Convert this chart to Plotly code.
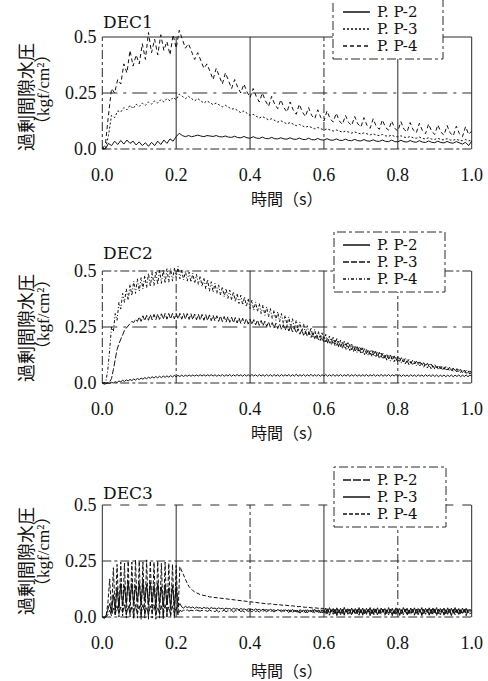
import numpy as np
import plotly.graph_objects as go

# ---------------- data (values in 1e-3 kgf/cm2) ----------------
SCALE = 1000.0
time_dec1 = np.linspace(0.0, 1.0, 121)    # s
time_dec23 = np.linspace(0.0, 1.0, 201)   # s

series_names = ["P. P-2", "P. P-3", "P. P-4"]
panel_labels = ["DEC1", "DEC2", "DEC3"]
x_ticks = [0.0, 0.2, 0.4, 0.6, 0.8, 1.0]
x_tick_text = ["0.0", "0.2", "0.4", "0.6", "0.8", "1.0"]
y_ticks = [0.0, 0.25, 0.5]
y_tick_text = ["0.0", "0.25", "0.5"]

dec1_pp2 = [5, 0, 25, 15, 35, 20, 38, 22, 40, 25,
            35, 18, 32, 15, 28, 12, 30, 15, 35, 20,
            40, 25, 45, 35, 55, 70, 60, 55, 60, 55,
            58, 62, 58, 55, 60, 57, 56, 60, 55, 54,
            58, 53, 52, 57, 51, 50, 56, 50, 48, 55,
            49, 47, 53, 47, 46, 52, 46, 45, 50, 45,
            44, 50, 44, 43, 49, 43, 42, 48, 42, 41,
            47, 41, 40, 46, 40, 39, 45, 39, 38, 44,
            38, 37, 43, 37, 36, 42, 36, 35, 41, 35,
            34, 40, 34, 33, 40, 33, 32, 39, 33, 31,
            38, 32, 30, 37, 31, 29, 36, 30, 28, 35,
            29, 27, 34, 28, 26, 33, 27, 22, 30, 15,
            35]
dec1_pp3 = [0, 0, 60, 150, 140, 170, 165, 185, 175, 195,
            180, 200, 190, 205, 195, 210, 200, 215, 205, 220,
            210, 225, 215, 230, 220, 245, 235, 225, 235, 225,
            215, 225, 215, 205, 215, 205, 198, 205, 195, 188,
            195, 185, 178, 180, 170, 162, 170, 158, 150, 155,
            145, 138, 145, 136, 130, 135, 126, 120, 126, 117,
            112, 118, 110, 104, 110, 102, 97, 102, 95, 90,
            96, 89, 85, 90, 84, 80, 85, 79, 75, 80,
            74, 71, 76, 70, 67, 72, 66, 63, 68, 62,
            60, 65, 59, 57, 62, 56, 54, 59, 53, 51,
            56, 50, 48, 53, 47, 45, 50, 44, 43, 48,
            42, 41, 46, 40, 39, 44, 38, 37, 42, 36,
            40]
dec1_pp4 = [0, 20, 150, 270, 250, 310, 290, 380, 340, 440,
            370, 420, 380, 470, 400, 520, 430, 490, 420, 510,
            440, 480, 420, 510, 450, 530, 490, 450, 470, 430,
            400, 430, 390, 360, 380, 340, 310, 360, 320, 290,
            340, 300, 270, 310, 275, 250, 290, 255, 230, 270,
            235, 210, 250, 215, 190, 235, 200, 180, 220, 185,
            165, 210, 175, 155, 200, 165, 145, 185, 150, 135,
            175, 140, 125, 170, 135, 120, 160, 125, 110, 150,
            118, 105, 145, 112, 98, 140, 105, 92, 135, 100,
            88, 130, 96, 84, 125, 92, 80, 122, 88, 76,
            118, 85, 72, 115, 82, 68, 112, 78, 65, 108,
            75, 62, 105, 72, 58, 102, 68, 55, 100, 65,
            80]

dec2_pp2 = [0, -5, -3, 0, -2, 3, 0, 6, 2, 9, 5, 12, 7, 14, 9, 16, 11, 18, 13, 20,
            15, 22, 17, 24, 19, 26, 21, 28, 22, 29, 23, 30, 24, 31, 25, 32, 26, 33, 27, 34,
            28, 34, 29, 35, 29, 35, 30, 36, 30, 36, 31, 36, 31, 37, 31, 37, 31, 37, 32, 37,
            31, 37, 30, 36, 31, 38, 30, 37, 31, 38, 30, 37, 31, 38, 31, 37, 30, 38, 31, 37,
            30, 38, 31, 37, 30, 38, 31, 37, 30, 38, 31, 37, 30, 38, 31, 37, 30, 38, 31, 37,
            31, 38, 30, 37, 31, 39, 30, 37, 31, 38, 30, 37, 31, 39, 30, 37, 31, 38, 30, 37,
            31, 38, 30, 37, 31, 38, 30, 37, 31, 38, 30, 37, 31, 38, 30, 37, 31, 38, 30, 37,
            30, 37, 31, 38, 30, 37, 31, 38, 30, 37, 31, 38, 30, 37, 31, 38, 30, 37, 31, 38,
            30, 36, 29, 37, 30, 36, 29, 37, 30, 36, 29, 37, 30, 36, 29, 37, 30, 36, 29, 37,
            29, 36, 28, 35, 29, 36, 28, 35, 29, 36, 28, 35, 29, 36, 28, 35, 29, 36, 28, 35,
            32]
dec2_pp3 = [0, 0, 0, 0, 5, 20, 60, 110, 150, 175, 200, 215, 235, 245, 260, 265, 275, 270, 285, 275,
            295, 275, 300, 278, 302, 280, 305, 282, 306, 283, 308, 284, 309, 285, 310, 285, 310, 286, 311, 286,
            311, 286, 311, 285, 310, 285, 310, 284, 309, 283, 308, 282, 307, 281, 306, 280, 305, 279, 304, 278,
            302, 277, 300, 275, 299, 274, 297, 272, 296, 271, 294, 269, 292, 268, 291, 266, 289, 265, 287, 263,
            285, 261, 283, 259, 281, 257, 279, 255, 276, 252, 273, 249, 270, 246, 267, 243, 264, 240, 260, 236,
            256, 232, 252, 228, 247, 223, 242, 218, 237, 213, 232, 208, 227, 203, 222, 198, 217, 193, 212, 188,
            207, 183, 202, 178, 197, 173, 192, 168, 187, 163, 182, 158, 177, 153, 172, 148, 167, 143, 162, 138,
            157, 135, 153, 131, 149, 127, 145, 123, 141, 119, 137, 115, 133, 111, 129, 107, 125, 103, 121, 100,
            117, 97, 113, 94, 109, 91, 105, 88, 101, 85, 97, 82, 94, 79, 91, 76, 88, 73, 85, 70,
            82, 67, 79, 64, 76, 61, 73, 58, 70, 55, 67, 52, 64, 49, 61, 46, 58, 43, 55, 40,
            50]
dec2_pp4 = [0, 0, 10, 60, 150, 250, 230, 310, 280, 360, 330, 400, 360, 420, 370, 440, 390, 455, 400, 465,
            410, 470, 420, 480, 425, 490, 430, 495, 435, 500, 440, 505, 445, 505, 445, 510, 450, 510, 455, 515,
            470, 520, 465, 505, 460, 500, 455, 495, 450, 490, 445, 485, 440, 478, 430, 470, 420, 462, 410, 452,
            405, 445, 400, 438, 392, 430, 385, 422, 378, 415, 370, 408, 362, 400, 355, 392, 348, 385, 340, 378,
            332, 370, 325, 362, 318, 355, 310, 348, 302, 340, 295, 332, 288, 325, 280, 318, 273, 310, 266, 302,
            258, 295, 250, 287, 243, 280, 236, 272, 228, 264, 220, 256, 212, 248, 205, 240, 198, 232, 190, 224,
            184, 217, 178, 210, 172, 204, 166, 198, 160, 192, 155, 186, 150, 180, 145, 174, 140, 168, 135, 162,
            130, 157, 126, 152, 122, 147, 118, 142, 114, 137, 110, 133, 106, 128, 102, 124, 98, 120, 95, 116,
            92, 112, 88, 108, 85, 104, 82, 100, 79, 97, 76, 94, 73, 90, 70, 87, 67, 84, 64, 81,
            62, 78, 59, 75, 57, 72, 55, 69, 53, 66, 51, 63, 49, 61, 47, 58, 45, 56, 43, 54,
            45]

dec3_pp2 = [0, -5, 0, 10, 30, 5, 40, 10, 50, 15, 45, 20, 55, 10, 50, 15, 45, 5, 55, 15,
            50, 10, 55, 15, 45, 10, 50, 20, 55, 10, 45, 15, 50, 10, 55, 20, 45, 10, 50, 15,
            45, 10, 30, 25, 30, 28, 32, 26, 30, 29, 27, 31, 28, 26, 30, 27, 29, 25, 31, 27,
            28, 24, 30, 22, 29, 26, 31, 23, 28, 25, 30, 22, 29, 26, 31, 24, 28, 22, 30, 25,
            29, 23, 31, 24, 28, 22, 30, 26, 29, 23, 31, 24, 28, 22, 30, 25, 29, 23, 31, 24,
            28, 20, 32, 18, 30, 22, 33, 17, 29, 21, 32, 18, 30, 22, 33, 16, 29, 20, 32, 18,
            30, 10, 34, 8, 32, 12, 35, 6, 30, 10, 33, 8, 32, 12, 35, 7, 31, 10, 34, 8,
            33, 8, 31, 12, 35, 6, 32, 10, 34, 8, 30, 12, 35, 7, 32, 10, 34, 6, 31, 12,
            34, 7, 32, 10, 35, 6, 31, 12, 33, 8, 35, 10, 32, 6, 34, 12, 31, 8, 35, 10,
            32, 6, 34, 10, 31, 8, 35, 12, 33, 6, 32, 10, 34, 8, 31, 12, 35, 6, 30, 15,
            20]
dec3_pp3 = [0, 0, 5, 30, 60, 20, 100, 30, 130, 40, 150, 50, 140, 60, 160, 70, 150, 60, 140, 70,
            150, 60, 160, 70, 145, 55, 155, 65, 140, 50, 150, 60, 135, 45, 145, 55, 130, 40, 140, 50,
            135, 45, 60, 45, 40, 48, 42, 46, 40, 45, 38, 44, 40, 42, 37, 43, 39, 41, 36, 42,
            38, 40, 35, 41, 37, 39, 34, 40, 36, 38, 33, 39, 35, 37, 32, 38, 34, 36, 31, 37,
            33, 35, 30, 36, 32, 34, 29, 35, 31, 33, 28, 34, 30, 32, 27, 33, 29, 31, 26, 32,
            28, 32, 22, 34, 26, 30, 20, 33, 25, 31, 18, 32, 26, 30, 20, 34, 24, 31, 18, 33,
            20, 40, 15, 42, 22, 38, 14, 41, 20, 39, 16, 43, 21, 37, 15, 40, 22, 38, 14, 42,
            18, 40, 15, 39, 22, 42, 14, 38, 20, 41, 16, 40, 21, 38, 15, 42, 19, 39, 14, 41,
            20, 38, 15, 42, 21, 39, 14, 40, 19, 41, 16, 38, 22, 42, 15, 39, 20, 41, 14, 40,
            19, 42, 15, 38, 21, 40, 14, 41, 20, 39, 16, 42, 18, 38, 15, 40, 21, 39, 18, 35,
            25]
dec3_pp4 = [0, -5, 0, 60, 170, 20, 220, 10, 235, 0, 245, 5, 240, -5, 250, 0, 245, -10, 255, -5,
            250, -10, 245, -5, 255, -10, 250, -5, 245, -10, 250, -5, 240, -10, 245, -5, 240, 0, 235, -5,
            230, 10, 225, 205, 190, 170, 150, 135, 125, 118, 112, 107, 104, 100, 98, 97, 94, 93, 90, 89,
            87, 86, 84, 85, 82, 81, 80, 81, 78, 77, 76, 77, 74, 73, 72, 73, 70, 69, 68, 69,
            66, 65, 64, 65, 63, 62, 61, 62, 60, 59, 58, 59, 57, 56, 55, 56, 54, 53, 52, 53,
            51, 50, 49, 50, 48, 47, 46, 47, 45, 44, 43, 44, 42, 41, 40, 41, 39, 38, 38, 39,
            37, 20, 38, 15, 36, 22, 35, 12, 37, 18, 34, 14, 36, 20, 33, 12, 35, 18, 32, 15,
            36, 12, 34, 20, 37, 14, 33, 18, 36, 10, 34, 20, 35, 12, 33, 18, 36, 14, 34, 20,
            35, 12, 33, 18, 36, 14, 32, 20, 35, 10, 34, 18, 36, 12, 33, 20, 35, 14, 32, 18,
            36, 12, 34, 20, 35, 14, 33, 18, 36, 10, 34, 20, 35, 12, 33, 18, 36, 14, 34, 25,
            30]

panels = [
    (time_dec1, [dec1_pp2, dec1_pp3, dec1_pp4]),
    (time_dec23, [dec2_pp2, dec2_pp3, dec2_pp4]),
    (time_dec23, [dec3_pp2, dec3_pp3, dec3_pp4]),
]

# ---------------- styling / layout ----------------
W, H = 488, 681
INK = "#111111"
GRID = "#2a2a2a"
SERIF = "Liberation Serif, Noto Sans CJK JP"
WIDE_SERIF = "DejaVu Serif, Liberation Serif"
CJK = "Noto Sans CJK JP"

line_dashes = [
    ["solid", "2px,2px", "4px,3px"],
    ["solid", "6px,2px", "3px,2px,1px,2px"],
    ["8px,2px", "solid", "4px,2px"],
]

X0_PX, X1_PX = 102.3, 471.7
panel_px = [(149.0, 37.0), (383.0, 271.0), (617.0, 505.0)]
X_RANGE = [-0.005, 1.005]
Y_RANGE = [-0.03, 0.55]

def px(x):
    return x / W

def py(y):
    return 1 - y / H

fig = go.Figure()
layout = dict(width=W, height=H, margin=dict(l=0, r=0, t=0, b=0),
              paper_bgcolor="white", plot_bgcolor="white", showlegend=False,
              shapes=[], annotations=[])

unit_x = X1_PX - X0_PX
xd0 = X0_PX + X_RANGE[0] * unit_x
xd1 = X0_PX + X_RANGE[1] * unit_x

grid_styles = [
    # bottom, left, top, right, v0.2, v0.4, v0.6, v0.8, h0.25
    ["dashdot", "dashdot", "solid", "solid", "solid", "solid", "dashdot", "solid", "longdashdot"],
    ["dashdot", "dashdot", "dashdot", "solid", "dashdot", "solid", "solid", "dashdot", "longdashdot"],
    ["dashdot", "solid", "dash", "solid", "solid", "dashdot", "solid", "dashdot", "dashdot"],
]

legend_boxes = [(333, -3, 443, 59), (334, 232, 445, 292), (334, 467, 446, 527)]
legend_rows = [(12, 29, 46), (245, 262, 279), (480, 497, 514)]
label_y = [22, 253, 493]
ytitle_jp_y = [97, 328, 561]
ytitle_unit_y = [90, 315, 552]
xtitle_y = [198, 432, 670]

for k, (tvals, series) in enumerate(panels):
    n = k + 1
    xa = "x" if n == 1 else f"x{n}"
    ya = "y" if n == 1 else f"y{n}"
    xkey = "xaxis" if n == 1 else f"xaxis{n}"
    ykey = "yaxis" if n == 1 else f"yaxis{n}"
    y0px, y5px = panel_px[k]
    unit_y = (y0px - y5px) / 0.5
    yb = y0px - Y_RANGE[0] * unit_y
    yt = y0px - Y_RANGE[1] * unit_y

    for j, vals in enumerate(series):
        fig.add_trace(go.Scatter(
            x=tvals, y=np.array(vals) / SCALE, mode="lines", name=series_names[j],
            xaxis=xa, yaxis=ya,
            line=dict(color=INK, width=1, dash=line_dashes[k][j]),
            hoverinfo="skip"))

    layout[xkey] = dict(domain=[px(xd0), px(xd1)], range=X_RANGE, anchor=ya,
                        showgrid=False, zeroline=False, showline=False,
                        tickvals=x_ticks, ticktext=x_tick_text, ticks="",
                        ticklabelstandoff=6,
                        tickfont=dict(family=SERIF, size=18, color=INK),
                        automargin=False, fixedrange=True)
    layout[ykey] = dict(domain=[py(yb), py(yt)], range=Y_RANGE, anchor=xa,
                        showgrid=False, zeroline=False, showline=False,
                        tickvals=y_ticks, ticktext=y_tick_text, ticks="",
                        ticklabelstandoff=3,
                        tickfont=dict(family=SERIF, size=18, color=INK),
                        automargin=False, fixedrange=True)

    st = grid_styles[k]
    segs = [
        (0, 0, 1, 0, st[0]), (0, 0, 0, 0.5, st[1]), (0, 0.5, 1, 0.5, st[2]),
        (1, 0, 1, 0.5, st[3]),
        (0.2, 0, 0.2, 0.5, st[4]), (0.4, 0, 0.4, 0.5, st[5]),
        (0.6, 0, 0.6, 0.5, st[6]), (0.8, 0, 0.8, 0.5, st[7]),
        (0, 0.25, 1, 0.25, st[8]),
    ]
    for (a0, b0, a1, b1, d) in segs:
        layout["shapes"].append(dict(type="line", xref=xa, yref=ya, x0=a0, y0=b0, x1=a1, y1=b1,
                                     line=dict(color=GRID, width=1, dash=d), layer="below"))

    lx0, ly0, lx1, ly1 = legend_boxes[k]
    layout["shapes"].append(dict(type="rect", xref="paper", yref="paper",
                                 x0=px(lx0), x1=px(lx1), y0=py(ly1), y1=py(ly0),
                                 fillcolor="white", line=dict(color=GRID, width=1, dash="dashdot"),
                                 layer="above"))
    for j, ry in enumerate(legend_rows[k]):
        layout["shapes"].append(dict(type="line", xref="paper", yref="paper",
                                     x0=px(343), x1=px(370), y0=py(ry), y1=py(ry),
                                     line=dict(color=INK, width=1.5, dash=line_dashes[k][j]),
                                     layer="above"))
        layout["annotations"].append(dict(xref="paper", yref="paper", x=px(375), y=py(ry),
                                          text=series_names[j], showarrow=False,
                                          xanchor="left", yanchor="middle",
                                          font=dict(family=WIDE_SERIF, size=15, color=INK)))

    layout["annotations"].append(dict(xref="paper", yref="paper", x=px(101), y=py(label_y[k]),
                                      text=panel_labels[k], showarrow=False,
                                      xanchor="left", yanchor="middle",
                                      font=dict(family=WIDE_SERIF, size=17, color=INK)))
    layout["annotations"].append(dict(xref="paper", yref="paper", x=px(25), y=py(ytitle_jp_y[k]),
                                      text="過剰間隙水圧", showarrow=False, textangle=-90,
                                      xanchor="center", yanchor="middle",
                                      font=dict(family=CJK, size=18, color=INK)))
    layout["annotations"].append(dict(xref="paper", yref="paper", x=px(43), y=py(ytitle_unit_y[k]),
                                      text="（kgf/cm²）", showarrow=False, textangle=-90,
                                      xanchor="center", yanchor="middle",
                                      font=dict(family=SERIF, size=17, color=INK)))
    layout["annotations"].append(dict(xref="paper", yref="paper", x=px(287), y=py(xtitle_y[k]),
                                      text="時間（s）", showarrow=False,
                                      xanchor="center", yanchor="middle",
                                      font=dict(family=CJK, size=16, color=INK)))

fig.update_layout(**layout)
fig.write_html("out.html", config={"displayModeBar": False},
               post_script="document.body.style.margin='0';")
